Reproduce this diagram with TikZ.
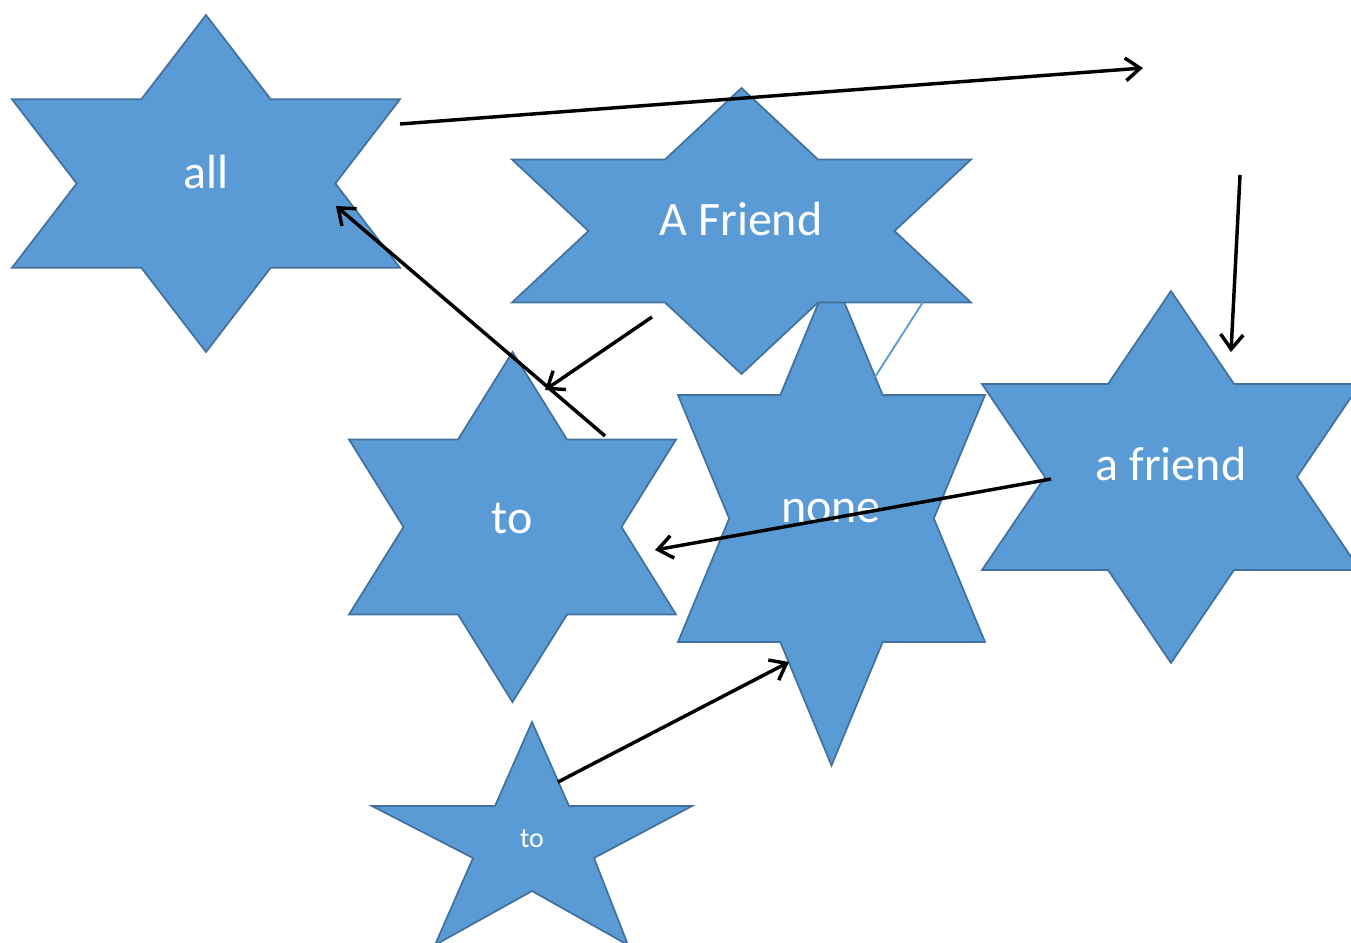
\documentclass[tikz,border=0pt]{standalone}
\usepackage{fontspec}
\setmainfont{Carlito}
\usetikzlibrary{arrows.meta}
\definecolor{starblue}{HTML}{5B9BD5}
\definecolor{staredge}{HTML}{41719C}
\tikzset{
  starfill/.style={fill=starblue, draw=staredge, line width=1.3pt, line join=miter},
  lbl/.style={text=white, inner sep=0pt, anchor=base, font=\fontsize{36}{40}\selectfont},
  smalllbl/.style={text=white, inner sep=0pt, anchor=base, font=\fontsize{21}{24}\selectfont},
  arr/.style={draw=black, line width=2.6pt, -{Straight Barb[length=11pt,width=17pt,line width=2.6pt]}},
}
% six-pointed star: #1 name, #2 cx, #3 cy, #4 width, #5 height
\newcommand\sixstar[5]{%
  \path[starfill] (#2,#3-#5/2) -- (#2+#4/6,#3-#5/4) -- (#2+#4/2,#3-#5/4) -- (#2+#4/3,#3)
    -- (#2+#4/2,#3+#5/4) -- (#2+#4/6,#3+#5/4) -- (#2,#3+#5/2) -- (#2-#4/6,#3+#5/4)
    -- (#2-#4/2,#3+#5/4) -- (#2-#4/3,#3) -- (#2-#4/2,#3-#5/4) -- (#2-#4/6,#3-#5/4) -- cycle;
  \coordinate (#1) at (#2,#3);}
\begin{document}
\begin{tikzpicture}[x=0.75pt,y=-0.75pt]
\useasboundingbox (0,0) rectangle (1351,942);
% stars
\sixstar{sAll}{206}{183.5}{388}{337}
\sixstar{sTo}{512.5}{527}{327}{350}
\sixstar{sNone}{831.5}{518.5}{307}{494}
\sixstar{sFriendA}{741.5}{231}{459}{286}
\sixstar{sFriendB}{1171}{477}{378}{372}
% five-pointed star
\path[starfill] (532,722) -- (569,806) -- (692,806) -- (594,858) -- (628,945)
  -- (532,891) -- (435,945) -- (473,858) -- (372,806) -- (495,806) -- cycle;
\coordinate (sSmall) at (532,838);
% stray light line
\coordinate (l1) at (923,302);
\coordinate (l2) at (875,377);
\draw[starblue, line width=1.4pt] (l1) -- (l2);
% labels
\node[lbl] (tAll) at (206,188) {all};
\node[lbl] (tFriendA) at (741,235) {A Friend};
\node[lbl] (tTo) at (512,533) {to};
\node[lbl] (tNone) at (831,522) {none};
\node[lbl] (tFriendB) at (1171,480) {a friend};
\node[smalllbl] (tSmall) at (532,847) {to};
% connector end points
\coordinate (a1) at (400,124);
\coordinate (a2) at (1143,68);
\coordinate (b1) at (1240,175);
\coordinate (b2) at (1231,352);
\coordinate (c1) at (1051,479);
\coordinate (c2) at (655,550);
\coordinate (d1) at (652,317);
\coordinate (d2) at (545,390);
\coordinate (e1) at (605,436);
\coordinate (e2) at (336,206);
\coordinate (f1) at (558,782);
\coordinate (f2) at (789,662);
% connectors
\draw[arr] (a1) -- (a2);
\draw[arr] (b1) -- (b2);
\draw[arr] (c1) -- (c2);
\draw[arr] (d1) -- (d2);
\draw[arr] (e1) -- (e2);
\draw[arr] (f1) -- (f2);
\end{tikzpicture}
\end{document}
